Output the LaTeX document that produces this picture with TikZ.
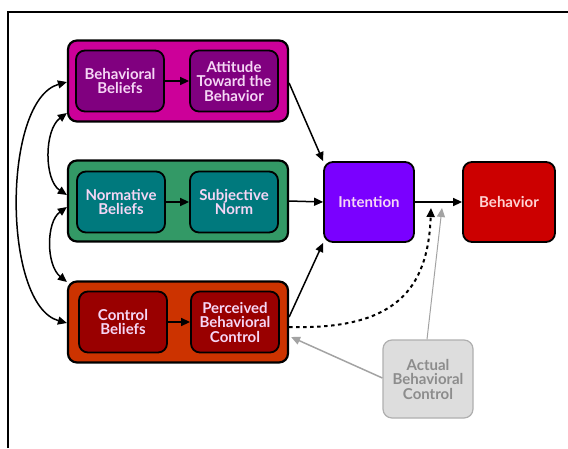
\documentclass[tikz,border=0pt]{standalone}
\usepackage{fontspec}
\setmainfont{Lato}
\usetikzlibrary{arrows.meta}
\definecolor{grpmag}{HTML}{CC0099}
\definecolor{boxpurple}{HTML}{80007F}
\definecolor{grpgreen}{HTML}{339966}
\definecolor{boxteal}{HTML}{00797D}
\definecolor{grporange}{HTML}{CC3300}
\definecolor{boxdarkred}{HTML}{990000}
\definecolor{intviolet}{HTML}{7A00FF}
\definecolor{behred}{HTML}{CC0000}
\definecolor{lightpink}{HTML}{F5D6F5}
\definecolor{actfill}{HTML}{DDDDDD}
\definecolor{actgray}{HTML}{8C8C8C}

\begin{document}
\begin{tikzpicture}[x=1pt, y=-1pt, >={Triangle[length=9pt,width=8pt]},
  group/.style={draw=black, line width=2.2pt, rounded corners=9pt,
    minimum width=220pt, minimum height=81pt},
  beliefbox/.style={draw=black, line width=1.8pt, rounded corners=9pt,
    minimum width=88pt, minimum height=61pt, text=lightpink, align=center,
    font=\bfseries\fontsize{15}{14.5}\selectfont},
  bigbox/.style={draw=black, line width=1.8pt, rounded corners=9pt,
    minimum width=90pt, minimum height=80pt, text=lightpink,
    font=\bfseries\fontsize{15}{15}\selectfont},
  link/.style={->, line width=1.5pt}]
\useasboundingbox (0,0) rectangle (568,448);
\draw[line width=1.5pt] (8,448) -- (8,12) -- (568,12);

% belief groups
\node[group, fill=grpmag] (attgrp) at (178,81) {};
\node[group, fill=grpgreen] (normgrp) at (178,201) {};
\node[group, fill=grporange] (ctlgrp) at (178,322) {};

\node[beliefbox, fill=boxpurple] (bb) at (120,81) {Behavioral\\Beliefs};
\node[beliefbox, fill=boxpurple] (att) at (234,81) {Attitude\\Toward the\\Behavior};
\node[beliefbox, fill=boxteal] (nb) at (121,202) {Normative\\Beliefs};
\node[beliefbox, fill=boxteal] (sn) at (234,202) {Subjective\\Norm};
\node[beliefbox, fill=boxdarkred] (cb) at (123,322) {Control\\Beliefs};
\node[beliefbox, fill=boxdarkred] (pbc) at (235,322) {Perceived\\Behavioral\\Control};

\node[bigbox, fill=intviolet] (intent) at (369,202) {Intention};
\node[bigbox, fill=behred, minimum width=92pt, text=pink!70] (beh) at (509,202) {Behavior};
\node[draw=actgray!70, fill=actfill, line width=1.2pt, rounded corners=9pt,
  minimum width=90pt, minimum height=78pt, text=actgray, align=center,
  font=\bfseries\fontsize{15}{14.5}\selectfont] (actual) at (428,379)
  {Actual\\Behavioral\\Control};

\coordinate (dashend) at (431,208);
\coordinate (grayend) at (442,208);

% inner arrows
\draw[link] (bb) -- (att);
\draw[link] (nb) -- (sn);
\draw[link] (cb) -- (pbc);

% into intention and behavior
\draw[link] ([yshift=-2pt]attgrp.east) -- (intent.north west);
\draw[link] (normgrp.east) -- (intent.west);
\draw[link] ([yshift=5pt]ctlgrp.east) -- (intent.south west);
\draw[link] (intent) -- (beh);
\draw[link, dash pattern=on 3.5pt off 3.5pt, line width=2pt]
  ([yshift=-5pt]ctlgrp.east) .. controls (395,330) and (428,290) .. (dashend);
\draw[->, actgray!80, line width=1pt] ([xshift=-1pt]actual.north) -- (grayend);
\draw[->, actgray!80, line width=1.5pt] ([yshift=1pt]actual.west) -- ([xshift=2pt,yshift=-15pt]ctlgrp.east);

% correlations on the left
\draw[<->, line width=1.5pt] ([yshift=-1pt]attgrp.west) .. controls (2,100) and (2,305) .. ([yshift=-1pt]ctlgrp.west);
\draw[<->, line width=1.5pt] ([yshift=-32pt]attgrp.west) .. controls (44,130) and (44,180) .. ([yshift=6pt]normgrp.west);
\draw[<->, line width=1.5pt] ([yshift=-6pt]normgrp.west) .. controls (46,222) and (46,265) .. ([yshift=40pt]ctlgrp.west);
\end{tikzpicture}
\end{document}
